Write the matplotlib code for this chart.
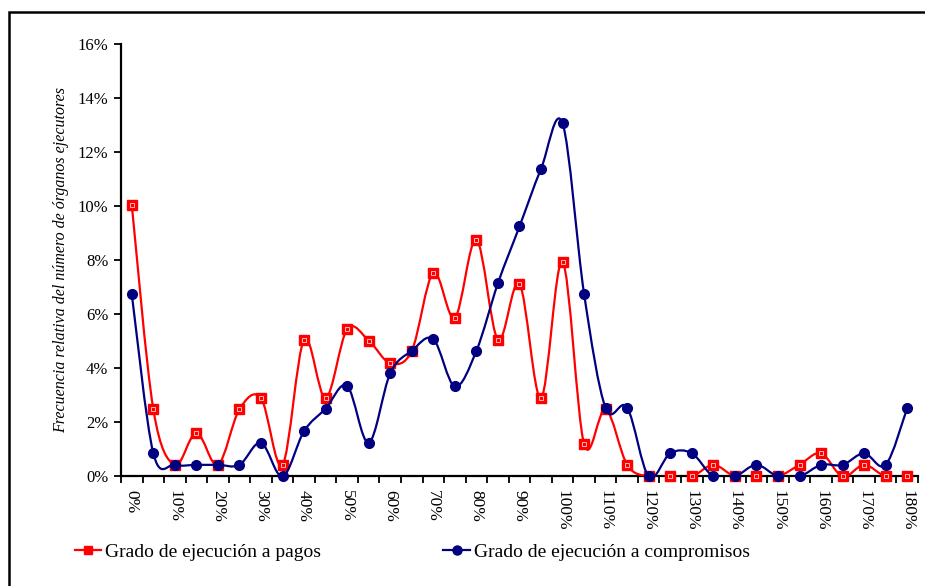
import numpy as np
import matplotlib.pyplot as plt
from matplotlib.path import Path
from matplotlib.patches import PathPatch, Rectangle
from matplotlib.lines import Line2D

plt.rcParams['font.family'] = ['Liberation Serif', 'DejaVu Serif']

# grado de ejecucion (categorias del eje x)
categories = [f"{v}%" for v in range(0, 185, 5)]

# frecuencia relativa (%) - grado de ejecucion a pagos
pagos = [10.05, 2.49, 0.43, 1.62, 0.43, 2.49, 2.90, 0.43, 5.06, 2.90,
         5.45, 5.03, 4.19, 4.65, 7.53, 5.87, 8.76, 5.06, 7.13, 2.90,
         7.94, 1.20, 2.49, 0.43, 0.00, 0.00, 0.00, 0.43, 0.00, 0.00,
         0.00, 0.43, 0.86, 0.00, 0.43, 0.00, 0.00]

# frecuencia relativa (%) - grado de ejecucion a compromisos
compromisos = [6.75, 0.86, 0.43, 0.43, 0.43, 0.43, 1.25, 0.00, 1.68, 2.51,
               3.35, 1.25, 3.82, 4.65, 5.08, 3.33, 4.65, 7.15, 9.25, 11.38,
               13.06, 6.75, 2.53, 2.55, 0.00, 0.86, 0.86, 0.00, 0.00, 0.43,
               0.00, 0.00, 0.43, 0.43, 0.86, 0.43, 2.53]

legend_labels = ["Grado de ejecución a pagos", "Grado de ejecución a compromisos"]


def smooth_path(x, y):
    """Bezier path through the points, like Excel's smoothed line."""
    pts = np.column_stack([x, y]).astype(float)
    n = len(pts)
    verts = [pts[0]]
    codes = [Path.MOVETO]
    for i in range(n - 1):
        p0 = pts[i - 1] if i > 0 else pts[i]
        p1 = pts[i]
        p2 = pts[i + 1]
        p3 = pts[i + 2] if i + 2 < n else pts[i + 1]
        c1 = p1 + (p2 - p0) / 6.0
        c2 = p2 - (p3 - p1) / 6.0
        verts += [c1, c2, p2]
        codes += [Path.CURVE4] * 3
    return Path(verts, codes)


red = '#FF0000'
navy = '#000080'

fig = plt.figure(figsize=(9.25, 5.86), dpi=100)
ax = fig.add_axes([0.1308, 0.1869, 0.8616, 0.738])

x = np.arange(len(categories))

ax.add_patch(PathPatch(smooth_path(x, pagos), fill=False, edgecolor=red, lw=1.6, zorder=3))
ax.plot(x, pagos, ls='none', marker='s', ms=6.5, mfc=red, mec=red, zorder=4, clip_on=False)
ax.plot(x, pagos, ls='none', marker='s', ms=3.2, mfc='none', mec='white', mew=0.5, zorder=4.5, clip_on=False)

ax.add_patch(PathPatch(smooth_path(x, compromisos), fill=False, edgecolor=navy, lw=1.6, zorder=5))
ax.plot(x, compromisos, ls='none', marker='o', ms=7, mfc=navy, mec=navy, zorder=6, clip_on=False)

ax.set_xlim(-0.5, len(categories) - 0.5)
ax.set_ylim(0, 16)

# ticks between categories, labels every 10%
ax.set_xticks(np.arange(len(categories) + 1) - 0.5)
ax.set_xticklabels([])
ax.set_xticks(x[::2], minor=True)
ax.set_xticklabels(categories[::2], minor=True, rotation=270, fontsize=12.5)
ax.tick_params(axis='x', which='major', direction='out', length=5, width=1.3)
ax.tick_params(axis='x', which='minor', length=0, pad=10)

ax.set_yticks(np.arange(0, 17, 2))
ax.set_yticklabels([f"{v}%" for v in range(0, 17, 2)], fontsize=12)
ax.tick_params(axis='y', direction='out', length=5, width=1.3, pad=4)

for s in ['top', 'right']:
    ax.spines[s].set_visible(False)
for s in ['left', 'bottom']:
    ax.spines[s].set_linewidth(1.6)

ax.set_ylabel("Frecuencia relativa del número de órganos ejecutores",
              fontsize=11.5, style='italic', labelpad=6)

handles = [
    Line2D([], [], color=red, lw=1.6, marker='s', ms=6, mfc=red, mec=red),
    Line2D([], [], color=navy, lw=1.6, marker='o', ms=6.5, mfc=navy, mec=navy),
]
fig.legend(handles, legend_labels, loc='center left', bbox_to_anchor=(0.062, 0.058),
           ncol=2, frameon=False, fontsize=14, handlelength=1.35, handletextpad=0.2,
           columnspacing=6.3)

# outer frame of the chart area
fig.patches.append(Rectangle((0.0092, -0.2), 1.2, 1.1795, transform=fig.transFigure,
                             fill=False, edgecolor='black', lw=1.8))

fig.savefig('out.png', dpi=100)
